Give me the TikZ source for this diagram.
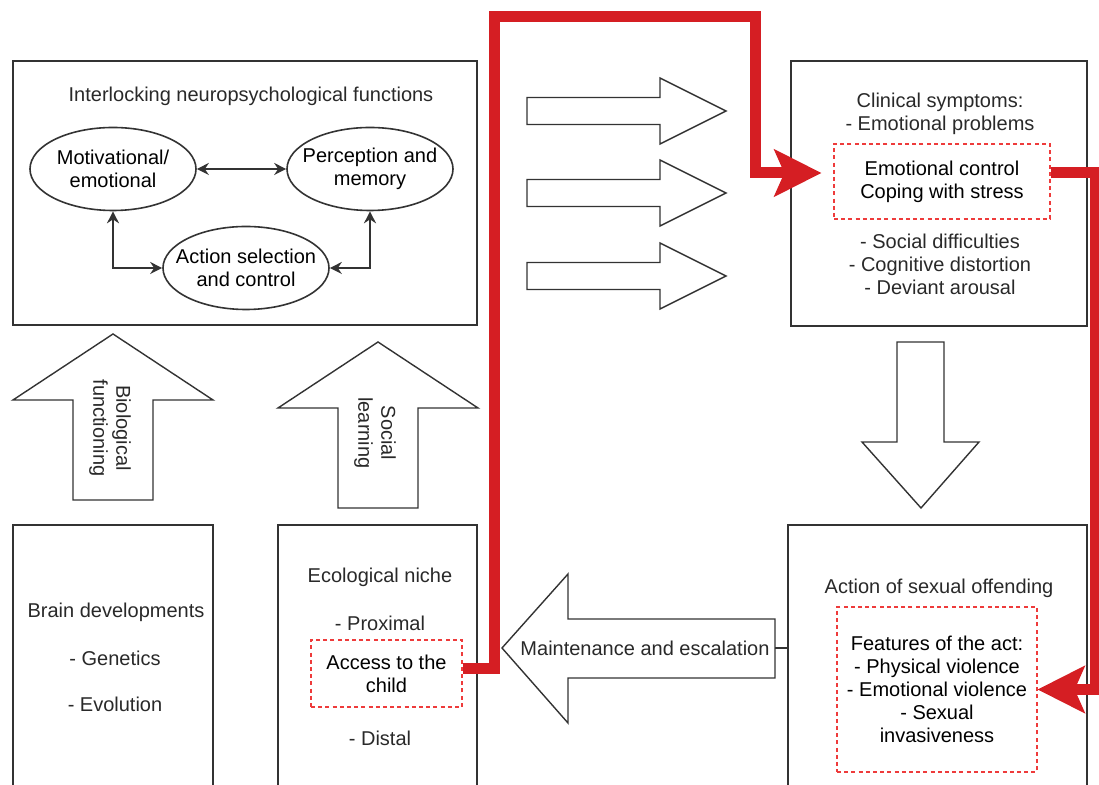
\documentclass[tikz,border=0pt]{standalone}
\usepackage{fontspec}
\setmainfont{Liberation Sans}
\usepackage{xcolor}
\usepackage{tikz}
\usetikzlibrary{positioning, arrows.meta, shapes.geometric}
\definecolor{pathRed}{HTML}{D51E23}
\definecolor{dashRed}{HTML}{EE3B3B}
\definecolor{lineDark}{HTML}{333333}

\begin{document}
\begin{tikzpicture}[x=0.5pt, y=-0.5pt, font=\fontsize{10}{11.5}\selectfont,
    panel/.style={draw=lineDark, line width=0.8pt, inner sep=0pt},
    bubble/.style={ellipse, draw=lineDark, line width=0.8pt, align=center,
      inner xsep=-10pt, inner ysep=-1pt, minimum width=83pt, minimum height=41.5pt},
    hotbox/.style={draw=dashRed, dash pattern=on 2pt off 1.6pt, line width=0.6pt,
      align=center, inner sep=0pt},
    txt/.style={align=center, inner sep=0pt, text=lineDark!80!black},
    fatarrow/.style={draw=lineDark, line width=0.7pt, fill=white, line join=miter},
    link/.style={lineDark, line width=0.7pt,
      {Stealth[length=6pt,width=6pt]}-{Stealth[length=6pt,width=6pt]}},
    redpath/.style={pathRed, line width=5.5pt, line join=miter,
      -{Stealth[length=23.5pt, width=23.5pt, inset=5pt]}}
  ]
  \clip (0,0) rectangle (1099,785);

  % top left: interlocking functions
  \node[panel, minimum width=232pt, minimum height=132pt] (neuro) at (245,193) {};
  \node[txt] (neurotitle) at (251,96) {Interlocking neuropsychological functions};
  \node[bubble] (mot) at (113,169) {Motivational/\\emotional};
  \node[bubble] (perc) at (370,169) {Perception and\\memory};
  \node[bubble] (act) at (246,268) {Action selection\\and control};
  \draw[link] (mot) -- (perc);
  \draw[link] (mot.south) |- (act.west);
  \draw[link] (perc.south) |- (act.east);

  % top right: clinical symptoms
  \node[panel, minimum width=148pt, minimum height=132.5pt] (clin) at (939,193.5) {};
  \node[txt] (clinhead) at (940,114) {Clinical symptoms:\\- Emotional problems};
  \node[hotbox, minimum width=108pt, minimum height=37.5pt] (clinhot) at (942,181.5)
    {Emotional control\\Coping with stress};
  \node[txt] (clinlist) at (940,264) {- Social difficulties\\- Cognitive distortion\\- Deviant arousal};

  % three arrows into the symptoms
  \foreach \y in {111,193,276}
    \draw[fatarrow] (527,\y-13.5) -- (660,\y-13.5) -- (660,\y-33) -- (726,\y)
      -- (660,\y+33) -- (660,\y+13.5) -- (527,\y+13.5) -- cycle;

  % upward arrows
  \draw[fatarrow] (73,500) -- (73,400) -- (13,400) -- (113,334) -- (213,400) -- (153,400) -- (153,500) -- cycle;
  \node[txt, rotate=-90] (bio) at (110,428) {Biological\\functioning};
  \draw[fatarrow] (338,508) -- (338,408) -- (278,408) -- (378,342) -- (478,408) -- (418,408) -- (418,508) -- cycle;
  \node[txt, rotate=-90] (social) at (375,433) {Social\\learning};

  % downward arrow
  \draw[fatarrow] (897,342) -- (944,342) -- (944,442) -- (979,442) -- (921,508) -- (862,442) -- (897,442) -- cycle;

  % bottom left: brain
  \node[panel, minimum width=100pt, minimum height=137.5pt] (brain) at (113,662.5) {};
  \node[txt] (brainhead) at (116,612) {Brain developments};
  \node[txt] (genetics) at (115,658) {- Genetics};
  \node[txt] (evolution) at (115,704) {- Evolution};

  % bottom middle: ecological niche
  \node[panel, minimum width=99.5pt, minimum height=137.5pt] (eco) at (377.5,662.5) {};
  \node[txt] (ecohead) at (380,577) {Ecological niche};
  \node[txt] (proximal) at (380,623) {- Proximal};
  \node[hotbox, minimum width=75.5pt, minimum height=33.5pt] (access) at (386.5,673.5)
    {Access to the\\child};
  \node[txt] (distal) at (380,738) {- Distal};

  % bottom right: the act
  \node[panel, minimum width=149.5pt, minimum height=137.5pt] (offend) at (937.5,662.5) {};
  \node[txt] (offendhead) at (939,588) {Action of sexual offending};
  \node[hotbox, minimum width=100pt, minimum height=82.5pt] (feathot) at (937,689.5)
    {Features of the act:\\- Physical violence\\- Emotional violence\\- Sexual\\invasiveness};

  % maintenance arrow
  \draw[fatarrow] (775,619) -- (568,619) -- (568,574) -- (502,648) -- (568,723) -- (568,678) -- (775,678) -- cycle;
  \node[txt] (maint) at (645,648) {Maintenance and escalation};
  \coordinate (maintEnd) at (775,648);
  \draw[lineDark, line width=0.7pt] (maintEnd) -- (maintEnd -| offend.west);

  % red pathway
  \coordinate (redA) at (494,17);
  \coordinate (redB) at (755,17);
  \coordinate (redR) at (1095,400);
  \draw[redpath, shorten >=6pt] ([yshift=2.25pt]access.east) -| (redA) -- (redB) |- ([yshift=4.25pt]clinhot.west);
  \draw[redpath] ([yshift=4.25pt]clinhot.east) -| (redR) |- (feathot.east);
\end{tikzpicture}
\end{document}
